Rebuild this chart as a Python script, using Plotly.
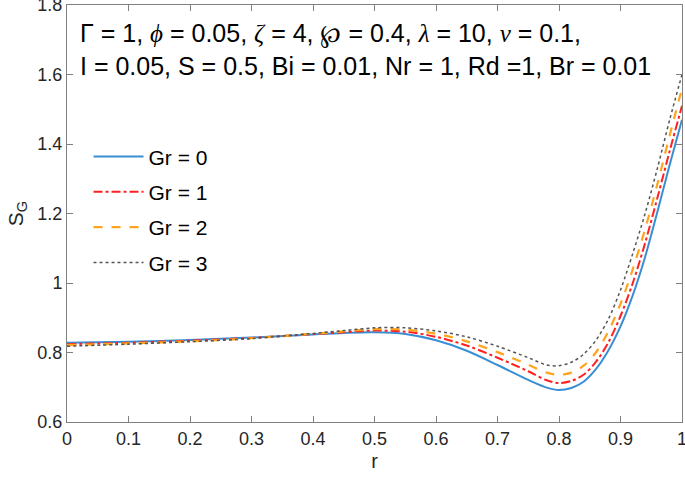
import plotly.graph_objects as go

r_vals = [0.0, 0.1, 0.2, 0.3, 0.4, 0.45, 0.5, 0.55, 0.6, 0.65, 0.7, 0.75, 0.78, 0.8,
          0.82, 0.84, 0.86, 0.88, 0.9, 0.92, 0.94, 0.96, 0.98, 1.0]
gr0 = [0.828, 0.831, 0.836, 0.843, 0.852, 0.856, 0.858, 0.853, 0.835, 0.805, 0.764, 0.721, 0.699, 0.692,
       0.698, 0.716, 0.752, 0.805, 0.875, 0.965, 1.075, 1.205, 1.340, 1.470]
gr1 = [0.824, 0.828, 0.834, 0.842, 0.853, 0.858, 0.863, 0.860, 0.845, 0.820, 0.785, 0.746, 0.720, 0.712,
       0.718, 0.736, 0.773, 0.828, 0.905, 1.000, 1.115, 1.245, 1.380, 1.510]
gr2 = [0.821, 0.826, 0.832, 0.841, 0.854, 0.861, 0.867, 0.866, 0.854, 0.832, 0.801, 0.765, 0.742, 0.736,
       0.742, 0.762, 0.800, 0.860, 0.940, 1.040, 1.155, 1.285, 1.425, 1.560]
gr3 = [0.818, 0.824, 0.831, 0.840, 0.855, 0.863, 0.871, 0.871, 0.862, 0.845, 0.818, 0.785, 0.764, 0.762,
       0.772, 0.795, 0.835, 0.895, 0.980, 1.085, 1.200, 1.330, 1.470, 1.600]

names = ["Gr = 0", "Gr = 1", "Gr = 2", "Gr = 3"]
x_ticks = [0, 0.1, 0.2, 0.3, 0.4, 0.5, 0.6, 0.7, 0.8, 0.9, 1]
x_tick_text = ["0", "0.1", "0.2", "0.3", "0.4", "0.5", "0.6", "0.7", "0.8", "0.9", "1"]
y_ticks = [0.6, 0.8, 1.0, 1.2, 1.4, 1.6, 1.8]
y_tick_text = ["0.6", "0.8", "1", "1.2", "1.4", "1.6", "1.8"]

styles = [
    dict(color="#3A8ED4", width=2, dash="solid"),
    dict(color="#FF2020", width=2, dash="dashdot"),
    dict(color="#FFA41C", width=2.2, dash="dash"),
    dict(color="#555555", width=1.5, dash="dot"),
]

fig = go.Figure()
for i, (name, ys, st) in enumerate(zip(names, [gr0, gr1, gr2, gr3], styles)):
    fig.add_trace(go.Scatter(x=r_vals, y=ys, mode="lines", name=name, legendgroup="g%d" % i,
                             line=dict(shape="spline", smoothing=0.9, **st)))

fig.update_layout(
    width=685, height=479,
    margin=dict(l=67, r=3, t=5, b=57, autoexpand=False),
    paper_bgcolor="white", plot_bgcolor="white",
    font=dict(family="Liberation Sans, Arial, sans-serif", color="#262626"),
    showlegend=True,
    legend=dict(x=0.035, y=0.685, xanchor="left", yanchor="top",
                bgcolor="rgba(255,255,255,0)", font=dict(size=21, color="#000000"),
                tracegroupgap=5, itemwidth=50),
)
fig.update_xaxes(range=[0, 1], tickvals=x_ticks, ticktext=x_tick_text,
                 ticks="inside", ticklen=6, tickcolor="#808080", mirror="ticks",
                 showline=True, linecolor="#808080", linewidth=1, showgrid=False,
                 zeroline=False, tickfont=dict(size=18), ticklabeloverflow="allow",
                 title=dict(text="r", font=dict(size=20), standoff=6))
fig.update_yaxes(range=[0.6, 1.8], tickvals=y_ticks, ticktext=y_tick_text,
                 ticks="inside", ticklen=6, tickcolor="#808080", mirror="ticks",
                 showline=True, linecolor="#808080", linewidth=1, showgrid=False,
                 zeroline=False, tickfont=dict(size=18), ticklabeloverflow="allow",
                 title=dict(text="S<sub>G</sub>", font=dict(size=21), standoff=8))

g = lambda s: "<span style='font-family:Liberation Serif, Times New Roman, serif'>" + s + "</span>"
line1 = ("Γ = 1, " + g("<i>ϕ</i>") + " = 0.05, " + g("<i>ζ</i>") + " = 4, " + g("℘") +
         " = 0.4, " + g("<i>λ</i>") + " = 10, " + g("<i>ν</i>") + " = 0.1,")
line2 = "I = 0.05, S = 0.5, Bi = 0.01, Nr = 1, Rd =1, Br = 0.01"
fig.add_annotation(xref="paper", yref="paper", x=0.018, y=0.972, xanchor="left", yanchor="top",
                   text=line1 + "<br>" + line2, showarrow=False, align="left",
                   font=dict(size=25, color="#000000"))

fig.write_html("out.html", config={"displayModeBar": False},
               post_script="document.body.style.margin='0';document.body.style.overflow='hidden';")
